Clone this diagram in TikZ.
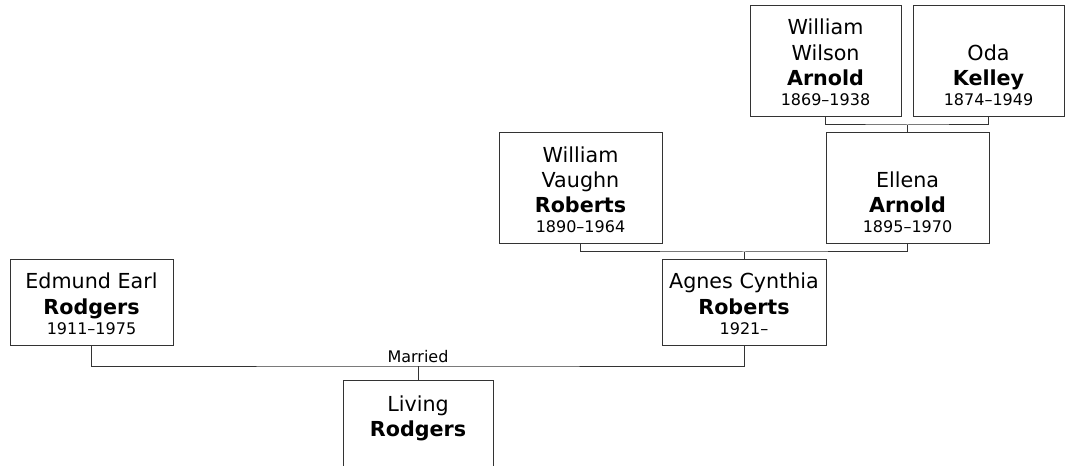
\documentclass[tikz,border=0pt]{standalone}
\usepackage{fontspec}
\setmainfont{DejaVu Sans}
\definecolor{linegray}{RGB}{51,51,51}
\newcommand{\namefont}{\fontsize{15.5}{19}\selectfont}
\newcommand{\datefont}{\fontsize{12}{15}\selectfont}
\newcommand{\topgap}{\rule{0pt}{22pt}}
\newcommand{\bottomgap}{\rule[-8.25pt]{0pt}{8.25pt}}

\begin{document}
\begin{tikzpicture}[x=0.75pt, y=-0.75pt,
    person/.style={draw=linegray, line width=0.75pt, fill=white, align=center,
        font=\namefont, inner xsep=0pt, inner ysep=0pt},
    boxsize/.style 2 args={minimum width={#1*0.75pt}, minimum height={#2*0.75pt}},
    link/.style={draw=linegray, line width=0.75pt}]
    \useasboundingbox (0,0) rectangle (1066,466);
    \def\mline{366}     % married line height
    \def\pline{252}     % Agnes parents line height
    \def\gline{125}     % Ellena parents line height
    % Draw the people
    \node[person, boxsize={163}{85}] (edmund) at (91.5,302.5)
        {\topgap Edmund Earl\\\textbf{Rodgers}\\[-4pt]{\datefont 1911–1975}\bottomgap};
    \node[person, boxsize={164}{85}] (agnes) at (744,302.5)
        {\topgap Agnes Cynthia\\\textbf{Roberts}\\[-4pt]{\datefont 1921–}\bottomgap};
    \node[person, boxsize={150}{89}] (living) at (418,424.5)
        {\topgap Living\\\textbf{Rodgers}\\[-4pt]\bottomgap};
    \node[person, boxsize={163}{111}] (vaughn) at (580.5,188.5)
        {\topgap William\\Vaughn\\\textbf{Roberts}\\[-4pt]{\datefont 1890–1964}\bottomgap};
    \node[person, boxsize={163}{111}] (ellena) at (907.5,188.5)
        {\topgap\\Ellena\\\textbf{Arnold}\\[-4pt]{\datefont 1895–1970}\bottomgap};
    \node[person, boxsize={151}{111}] (wilson) at (825.5,61)
        {\topgap William\\Wilson\\\textbf{Arnold}\\[-4pt]{\datefont 1869–1938}\bottomgap};
    \node[person, boxsize={151}{111}] (oda) at (988.5,61)
        {\topgap\\Oda\\\textbf{Kelley}\\[-4pt]{\datefont 1874–1949}\bottomgap};
    % Draw the marriages
    \coordinate (marriage) at (living.north |- 0,\mline);
    \coordinate (vaughnellena) at (agnes.north |- 0,\pline);
    \coordinate (wilsonoda) at (ellena.north |- 0,\gline);
    \draw[link] (edmund.south) |- (marriage) -| (agnes.south);
    \draw[link] (marriage) node[above, inner sep=2pt, font=\datefont] {Married} -- (living.north);
    \draw[link] (vaughn.south) |- (vaughnellena) -| (ellena.south);
    \draw[link] (vaughnellena) -- (agnes.north);
    \draw[link] (wilson.south) |- (wilsonoda) -| (oda.south);
    \draw[link] (wilsonoda) -- (ellena.north);
\end{tikzpicture}
\end{document}
